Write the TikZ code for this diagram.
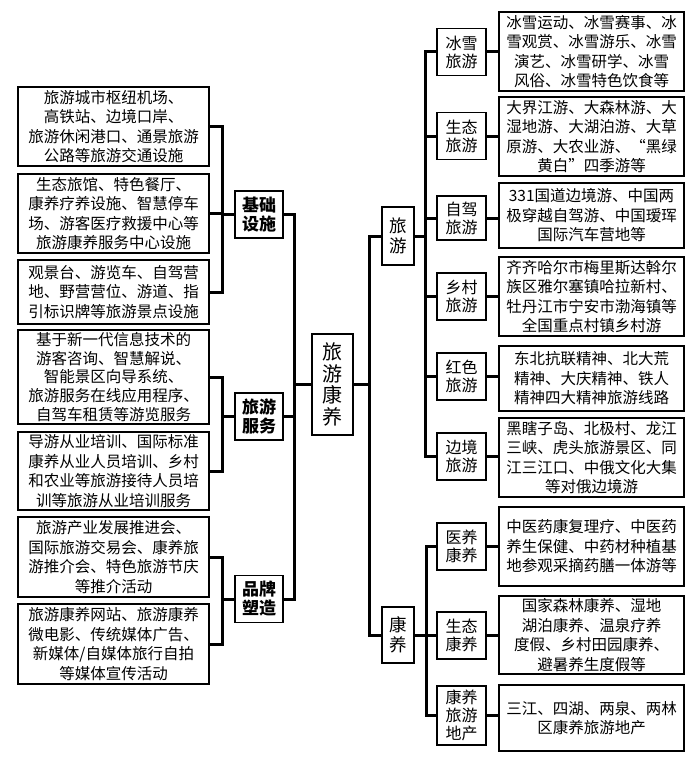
\documentclass[tikz,border=0pt]{standalone}
\usepackage{fontspec}
\setmainfont{Noto Sans CJK SC}
\usetikzlibrary{positioning}

\begin{document}
\begin{tikzpicture}[x=1pt,y=-1pt]
    \tikzstyle{every node} = [font=\fontsize{15.5}{19.5}\selectfont, inner sep=0pt, align=center]
    \tikzstyle{leafL} = [draw, line width=1.3pt, minimum width=191]
    \tikzstyle{leafR} = [draw, line width=1.3pt, minimum width=185]
    \tikzstyle{cat} = [draw, line width=1.3pt, minimum width=48, minimum height=47, font=\fontsize{17}{19}\selectfont\bfseries]
    \tikzstyle{sub} = [draw, line width=1.3pt, minimum width=49, minimum height=47, font=\fontsize{16}{18}\selectfont]
    \tikzstyle{top} = [draw, line width=1.3pt, minimum width=32, font=\fontsize{17.5}{20}\selectfont]
    \tikzstyle{link} = [line width=3pt]
    \useasboundingbox (0,0) rectangle (700,768);

    % place nodes
    \node[draw, line width=1.3pt, minimum width=41, minimum height=101, font=\fontsize{20}{21.7}\selectfont](lykang) at (332.5,384.5){旅\\游\\康\\养};

    \node[cat](jichu) at (259,214.5){基础\\设施};
    \node[cat](fuwu) at (259,416.5){旅游\\服务};
    \node[cat](pinpai) at (259,599){品牌\\塑造};

    \node[leafL,minimum height=79](jichuA) at (113.5,126.5){旅游城市枢纽机场、\\高铁站、边境口岸、\\旅游休闲港口、通景旅游\\公路等旅游交通设施};
    \node[leafL,minimum height=79](jichuB) at (113.5,213.5){生态旅馆、特色餐厅、\\康养疗养设施、智慧停车\\场、游客医疗救援中心等\\旅游康养服务中心设施};
    \node[leafL,minimum height=64](jichuC) at (113.5,292){观景台、游览车、自驾营\\地、野营营位、游道、指\\引标识牌等旅游景点设施};
    \node[leafL,minimum height=94,font=\fontsize{15.5}{18.6}\selectfont](fuwuA) at (113.5,377){基于新一代信息技术的\\游客咨询、智慧解说、\\智能景区向导系统、\\旅游服务在线应用程序、\\自驾车租赁等游览服务};
    \node[leafL,minimum height=78](fuwuB) at (113.5,471){导游从业培训、国际标准\\康养从业人员培训、乡村\\和农业等旅游接待人员培\\训等旅游从业培训服务};
    \node[leafL,minimum height=80](pinpaiA) at (113.5,557){旅游产业发展推进会、\\国际旅游交易会、康养旅\\游推介会、特色旅游节庆\\等推介活动};
    \node[leafL,minimum height=80](pinpaiB) at (113.5,644){旅游康养网站、旅游康养\\微电影、传统媒体广告、\\新媒体/自媒体旅行自拍\\等媒体宣传活动};

    \node[top,minimum height=58](lvyou) at (398,236){旅\\游};
    \node[top,minimum height=56](kangyang) at (398,635){康\\养};

    \node[sub](bingxue) at (461.5,52){冰雪\\旅游};
    \node[sub](shengtai) at (461.5,136){生态\\旅游};
    \node[sub,minimum height=44](zijia) at (461.5,218){自驾\\旅游};
    \node[sub](xiangcun) at (461.5,296.5){乡村\\旅游};
    \node[sub](hongse) at (461.5,376.5){红色\\旅游};
    \node[sub](bianjing) at (461.5,456.5){边境\\旅游};
    \node[sub](yiyang) at (461.5,546.5){医养\\康养};
    \node[sub](stky) at (461.5,635.5){生态\\康养};
    \node[sub,minimum height=59](dichan) at (461.5,715.5){康养\\旅游\\地产};

    \node[leafR,minimum height=79](bingxueT) at (591.5,51.5){冰雪运动、冰雪赛事、冰\\雪观赏、冰雪游乐、冰雪\\演艺、冰雪研学、冰雪\\风俗、冰雪特色饮食等};
    \node[leafR,minimum height=79](shengtaiT) at (591.5,136.5){大界江游、大森林游、大\\湿地游、大湖泊游、大草\\原游、大农业游、“黑绿\\黄白”四季游等};
    \node[leafR,minimum height=65](zijiaT) at (591.5,215.5){331国道边境游、中国两\\极穿越自驾游、中国瑷珲\\国际汽车营地等};
    \node[leafR,minimum height=79](xiangcunT) at (591.5,296.5){齐齐哈尔市梅里斯达斡尔\\族区雅尔塞镇哈拉新村、\\牡丹江市宁安市渤海镇等\\全国重点村镇乡村游};
    \node[leafR,minimum height=65](hongseT) at (591.5,378.5){东北抗联精神、北大荒\\精神、大庆精神、铁人\\精神四大精神旅游线路};
    \node[leafR,minimum height=79](bianjingT) at (591.5,457.5){黑瞎子岛、北极村、龙江\\三峡、虎头旅游景区、同\\江三江口、中俄文化大集\\等对俄边境游};
    \node[leafR,minimum height=79](yiyangT) at (591.5,546.5){中医药康复理疗、中医药\\养生保健、中药材种植基\\地参观采摘药膳一体游等};
    \node[leafR,minimum height=78](stkyT) at (591.5,635){国家森林康养、湿地\\湖泊康养、温泉疗养\\度假、乡村田园康养、\\避暑养生度假等};
    \node[leafR,minimum height=66](dichanT) at (591.5,718){三江、四湖、两泉、两林\\区康养旅游地产};

    % Connections
    \foreach \c/\l in {jichu/jichuA,jichu/jichuB,jichu/jichuC,fuwu/fuwuA,fuwu/fuwuB,pinpai/pinpaiA,pinpai/pinpaiB}
      \draw[link] (\c.west)--++(-12,0)|-(\l.east);
    \foreach \c in {jichu,fuwu,pinpai}
      \draw[link] (lykang.west)--++(-17,0)|-(\c.east);
    \foreach \c in {lvyou,kangyang}
      \draw[link] (lykang.east)--++(16,0)|-(\c.west);
    \foreach \s in {bingxue,shengtai,zijia,xiangcun,hongse,bianjing}
      \draw[link] (lvyou.east)--++(11,0)|-(\s.west);
    \foreach \s in {yiyang,stky,dichan}
      \draw[link] (kangyang.east)--++(12,0)|-(\s.west);
    \foreach \s in {bingxue,shengtai,zijia,xiangcun,hongse,bianjing,yiyang,stky,dichan}
      \draw[link] (\s.east)--(\s.east -| \s T.west);

  \end{tikzpicture}
\end{document}
